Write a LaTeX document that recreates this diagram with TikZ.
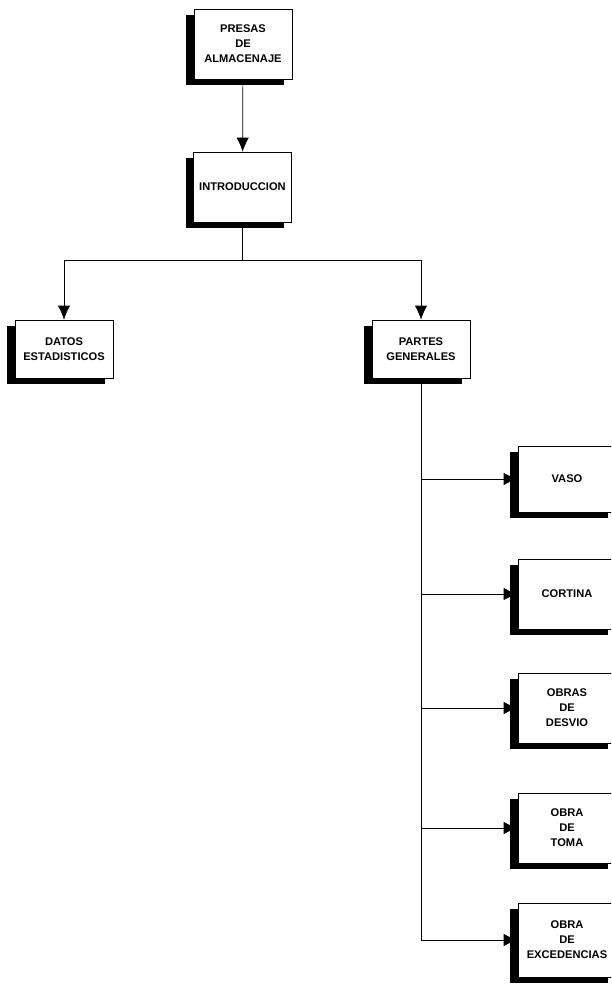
\documentclass[tikz,border=0pt]{standalone}
\usepackage{fontspec}
\setmainfont{Liberation Sans}
\usetikzlibrary{arrows.meta,positioning,shadows}

\begin{document}
\begin{tikzpicture}[>={Latex[length=0.42cm,width=0.37cm]}, x=0.03cm, y=-0.03cm, semithick]
  \tikzstyle{box}=[draw, fill=white, align=center, text width=2.8cm,
    font=\bfseries\fontsize{9.5}{12.8}\selectfont, inner sep=1pt,
    minimum width=2.94cm, minimum height=2.1cm,
    drop shadow={shadow xshift=-0.24cm, shadow yshift=-0.18cm, fill=black, opacity=1}]
  \tikzstyle{flatbox}=[box, minimum height=1.74cm]
  \useasboundingbox (0,0) rectangle (611,985);
  \clip (0,0) rectangle (611,985);
  % top of the tree
  \node[box] (pres) at (243,44) {PRESAS\\DE\\ALMACENAJE};
  \node[box] (intro) at (242.5,187) {INTRODUCCION};
  \node[flatbox] (datos) at (64,349) {DATOS\\ESTADISTICOS};
  \node[flatbox] (partes) at (421,349) {PARTES\\GENERALES};
  % parts, right column
  \node[box, minimum height=1.98cm] (vaso) at (567,479) {VASO};
  \node[box] (cort) at (567,594) {CORTINA};
  \node[box] (desv) at (567,708) {OBRAS\\DE\\DESVIO};
  \node[box] (toma) at (567,828) {OBRA\\DE\\TOMA};
  \node[box, minimum height=2.22cm] (exc) at (567,940) {OBRA\\DE\\EXCEDENCIAS};
  \draw[->] (pres) -- (intro);
  \draw (intro.south) -- ++(0,38) coordinate (split);
  \draw[->] (split) -| (datos);
  \draw[->] (split) -| (partes);
  \draw[->] (partes.south) |- (exc.west);
  \foreach \n in {vaso,cort,desv,toma}
    \draw[->] (partes.south |- \n.west) -- (\n.west);
\end{tikzpicture}
\end{document}
